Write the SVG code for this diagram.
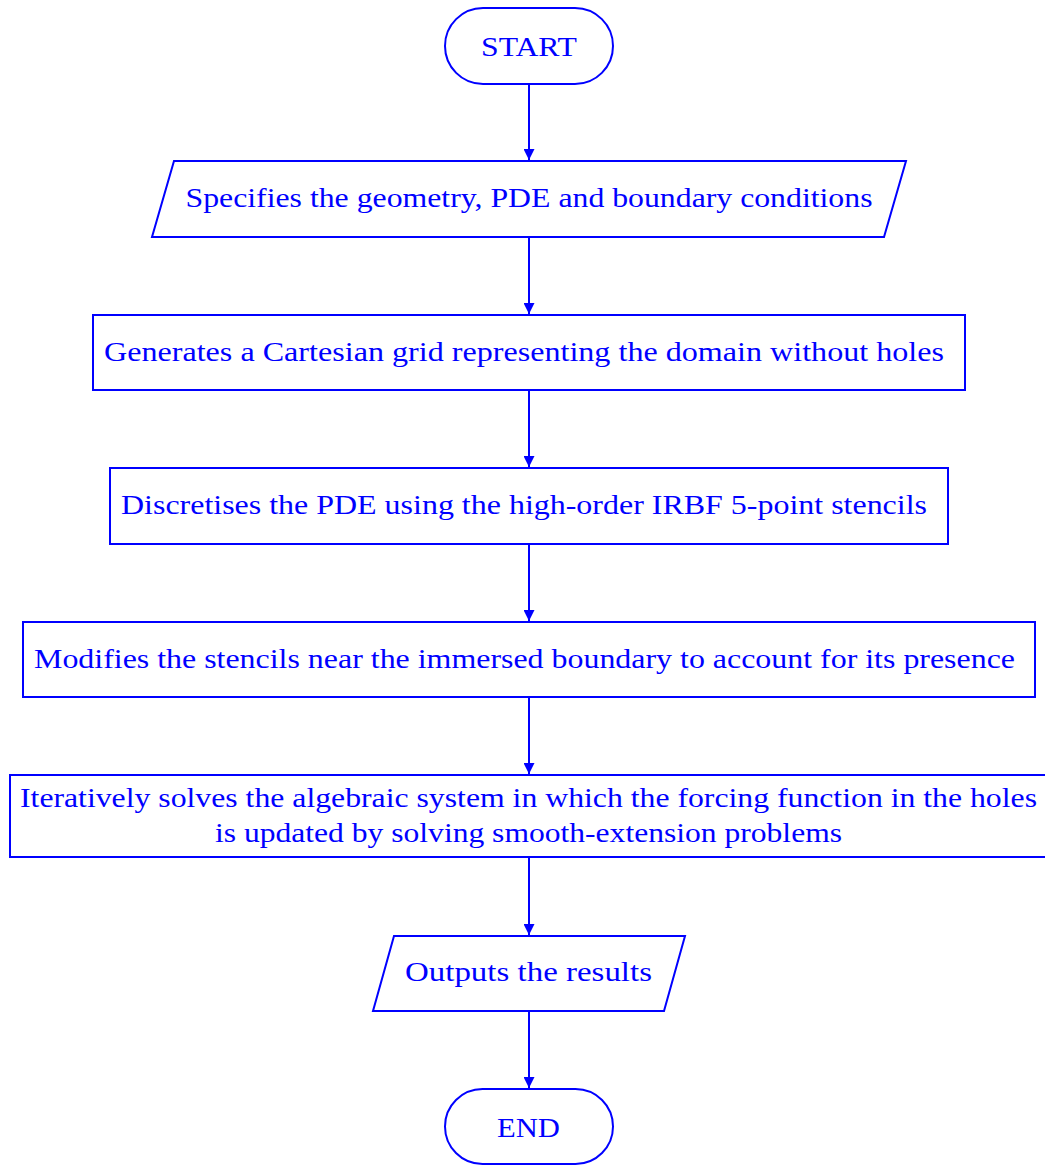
<svg xmlns="http://www.w3.org/2000/svg" width="1045" height="1165" viewBox="0 0 1045 1165">
<style>
.s{fill:#fff;stroke:#0000ff;stroke-width:2}
.t{font-family:"Liberation Serif","DejaVu Serif",serif;font-size:28px;fill:#0000ff;text-anchor:middle}
.c{stroke:#0000ff;stroke-width:2;fill:none}
</style>
<defs>
<marker id="a" viewBox="0 0 10 10" refX="10" refY="5" markerWidth="5.5" markerHeight="5.5" markerUnits="strokeWidth" orient="auto">
<path d="M0,0 L10,5 L0,10 z" fill="#0000ff"/>
</marker>
</defs>
<rect width="1045" height="1165" fill="#fff"/>
<g id="connectors">
<line class="c" x1="529" y1="84" x2="529" y2="160" marker-end="url(#a)"/>
<line class="c" x1="529" y1="237" x2="529" y2="314" marker-end="url(#a)"/>
<line class="c" x1="529" y1="390" x2="529" y2="467" marker-end="url(#a)"/>
<line class="c" x1="529" y1="544" x2="529" y2="621" marker-end="url(#a)"/>
<line class="c" x1="529" y1="697" x2="529" y2="774" marker-end="url(#a)"/>
<line class="c" x1="529" y1="857" x2="529" y2="935" marker-end="url(#a)"/>
<line class="c" x1="529" y1="1011" x2="529" y2="1088" marker-end="url(#a)"/>
</g>
<g id="start">
<rect class="s" x="445" y="8" width="168" height="76" rx="38" ry="38"/>
<text class="t" x="529" y="56" textLength="96" lengthAdjust="spacingAndGlyphs">START</text>
</g>
<g id="input">
<polygon class="s" points="174,161 906,161 884,237 152,237"/>
<text class="t" x="529" y="207" textLength="687" lengthAdjust="spacingAndGlyphs">Specifies the geometry, PDE and boundary conditions</text>
</g>
<g id="grid">
<rect class="s" x="93" y="315" width="872" height="75"/>
<text class="t" x="524" y="361" textLength="840" lengthAdjust="spacingAndGlyphs">Generates a Cartesian grid representing the domain without holes</text>
</g>
<g id="discretise">
<rect class="s" x="110" y="468" width="838" height="76"/>
<text class="t" x="524" y="514" textLength="806" lengthAdjust="spacingAndGlyphs">Discretises the PDE using the high-order IRBF 5-point stencils</text>
</g>
<g id="modify">
<rect class="s" x="23" y="622" width="1012" height="75"/>
<text class="t" x="524.5" y="668" textLength="981" lengthAdjust="spacingAndGlyphs">Modifies the stencils near the immersed boundary to account for its presence</text>
</g>
<g id="solve">
<rect class="s" x="10" y="775" width="1045" height="82"/>
<text class="t" x="528.5" y="807" textLength="1017" lengthAdjust="spacingAndGlyphs">Iteratively solves the algebraic system in which the forcing function in the holes</text>
<text class="t" x="528.5" y="842" textLength="627" lengthAdjust="spacingAndGlyphs">is updated by solving smooth-extension problems</text>
</g>
<g id="output">
<polygon class="s" points="394,936 685,936 664,1011 373,1011"/>
<text class="t" x="528.5" y="981" textLength="247" lengthAdjust="spacingAndGlyphs">Outputs the results</text>
</g>
<g id="end">
<rect class="s" x="445" y="1089" width="168" height="75" rx="37.5" ry="37.5"/>
<text class="t" x="528.5" y="1137" textLength="63" lengthAdjust="spacingAndGlyphs">END</text>
</g>
</svg>
